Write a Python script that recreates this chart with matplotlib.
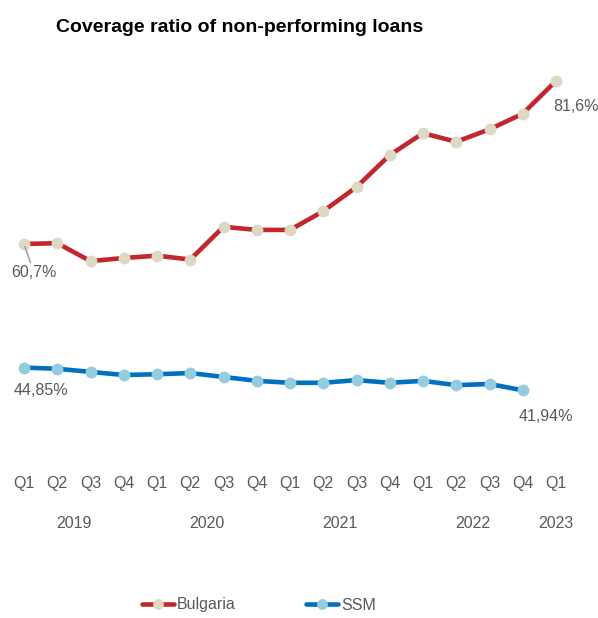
import numpy as np
import matplotlib.pyplot as plt
from matplotlib import transforms

plt.rcParams['font.family'] = ['Liberation Sans Narrow', 'Liberation Sans', 'DejaVu Sans']

# Data
quarters = ['Q1', 'Q2', 'Q3', 'Q4'] * 4 + ['Q1']
years = ['2019', '2020', '2021', '2022', '2023']
bulgaria = [60.7, 60.8, 58.5, 58.9, 59.2, 58.7, 62.9, 62.5, 62.5, 64.9,
            68.0, 72.1, 74.9, 73.8, 75.4, 77.4, 81.6]
ssm = [44.85, 44.7, 44.3, 43.9, 44.0, 44.15, 43.65, 43.15, 42.9, 42.9,
       43.25, 42.9, 43.15, 42.6, 42.75, 41.94]

red = '#C1272D'
red_mk = '#DDD9C4'
blue = '#0070C0'
blue_mk = '#93CDDD'
grey = '#595959'
fs = 11.5

fig = plt.figure(figsize=(5.98, 6.18), dpi=100)
ax = fig.add_axes([0, 0.2638, 1, 0.6392])

x_b = np.arange(len(bulgaria))
x_s = np.arange(len(ssm))
ax.plot(x_b, bulgaria, color=red, lw=3.3, marker='o', ms=7.5,
        mfc=red_mk, mec=red_mk, label='Bulgaria', solid_capstyle='round')
ax.plot(x_s, ssm, color=blue, lw=3.3, marker='o', ms=7.5,
        mfc=blue_mk, mec=blue_mk, label='SSM', solid_capstyle='round')

ax.set_xlim(-0.722, 17.263)
ax.set_ylim(33.65, 84.29)

ax.set_xticks(range(len(quarters)))
ax.set_xticklabels(quarters, fontsize=fs, color=grey)
ax.tick_params(axis='x', length=0, pad=15)
ax.set_yticks([])
for s in ax.spines.values():
    s.set_visible(False)
ax.patch.set_alpha(0)

# year labels under the quarters
trans = transforms.blended_transform_factory(ax.transData, fig.transFigure)
year_pos = [1.5, 5.5, 9.5, 13.5, 16]
for yp, yr in zip(year_pos, years):
    ax.text(yp, 1 - 523 / 618, yr, transform=trans, ha='center', va='center',
            fontsize=fs, color=grey)

# data labels
fmt = lambda v: ('%.2f%%' % v if v in (44.85, 41.94) else '%.1f%%' % v).replace('.', ',')
ax.annotate(fmt(bulgaria[0]), (0, bulgaria[0]), xytext=(10, -29),
            textcoords='offset pixels', ha='center', va='center', fontsize=fs,
            color=grey, arrowprops=dict(arrowstyle='-', color='#A6A6A6', lw=1.2,
                                        shrinkA=0, shrinkB=2))
ax.annotate(fmt(bulgaria[-1]), (16, bulgaria[-1]), xytext=(20, -26),
            textcoords='offset pixels', ha='center', va='center', fontsize=fs, color=grey)
ax.annotate(fmt(ssm[0]), (0, ssm[0]), xytext=(17, -23),
            textcoords='offset pixels', ha='center', va='center', fontsize=fs, color=grey)
ax.annotate(fmt(ssm[-1]), (15, ssm[-1]), xytext=(23, -26),
            textcoords='offset pixels', ha='center', va='center', fontsize=fs, color=grey)

fig.text(240 / 598, 1 - 28 / 618, 'Coverage ratio of non-performing loans',
         ha='center', va='center', fontsize=14, fontweight='bold', color='black')

leg = fig.legend(loc='center', bbox_to_anchor=(259 / 598, 1 - 605 / 618), ncol=2,
                 frameon=False, fontsize=11.5, handlelength=2.0, handletextpad=0.2,
                 columnspacing=4.4, markerscale=0.9)
for t in leg.get_texts():
    t.set_color(grey)

fig.savefig('out.png', dpi=100)
